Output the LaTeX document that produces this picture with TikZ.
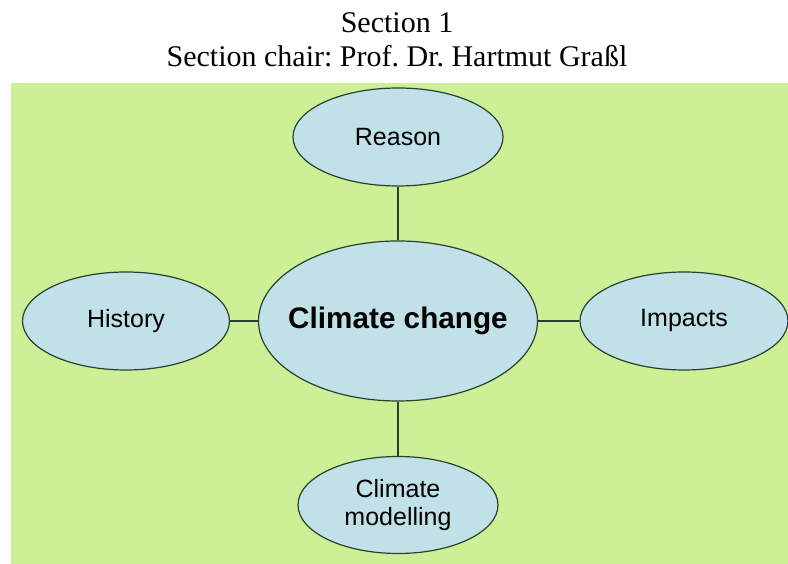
\documentclass[tikz,border=0pt]{standalone}
\usepackage{fontspec}
\setmainfont{Liberation Serif}
\setsansfont{Liberation Sans}
\usepackage{tikz}
\usetikzlibrary{shapes.geometric, positioning, calc}
\definecolor{bggreen}{RGB}{205,240,150}
\definecolor{bubblefill}{RGB}{192,225,232}
\definecolor{bubbleline}{RGB}{40,65,45}
\tikzstyle{bubble} = [ellipse,draw=bubbleline,line width=1.2pt,fill=bubblefill,inner sep=0pt,font=\sffamily\fontsize{25}{28}\selectfont,align=center]
\tikzstyle{titletext} = [font=\frenchspacing\fontsize{30}{34}\selectfont,text height=21pt,text depth=6pt,inner sep=0pt]
\tikzstyle{link} = [draw=bubbleline,line width=1.2pt]

\begin{document}
\begin{tikzpicture}[x=1pt,y=1pt,node distance=34pt,on grid]
	\useasboundingbox (0,0) rectangle (788,564);
	\fill[bggreen] (11,0) rectangle (788,481);
	% heading
	\node[titletext](title_1) at (397,538.5){Section 1};
	\node[titletext][below=of title_1](title_2){Section chair: Prof. Dr. Hartmut Graßl};
	% mind map
	\node[bubble,minimum width=279pt,minimum height=160pt,label={[font=\sffamily\bfseries\fontsize{29.7}{32}\selectfont]center:Climate change}](cc) at (398,243){};
	\node[bubble,minimum width=210pt,minimum height=98pt][above=184pt of cc](reason){Reason};
	\node[bubble,minimum width=207pt,minimum height=98pt][left=272pt of cc](history){History};
	\node[bubble,minimum width=208pt,minimum height=98pt][right=286pt of cc](impacts){Impacts};
	\node[bubble,minimum width=200pt,minimum height=97pt][below=184pt of cc](model){Climate\\modelling};
	\path[link]
	(cc) edge (reason)
		edge (history)
		edge (impacts)
		edge (model);
\end{tikzpicture}
\end{document}
